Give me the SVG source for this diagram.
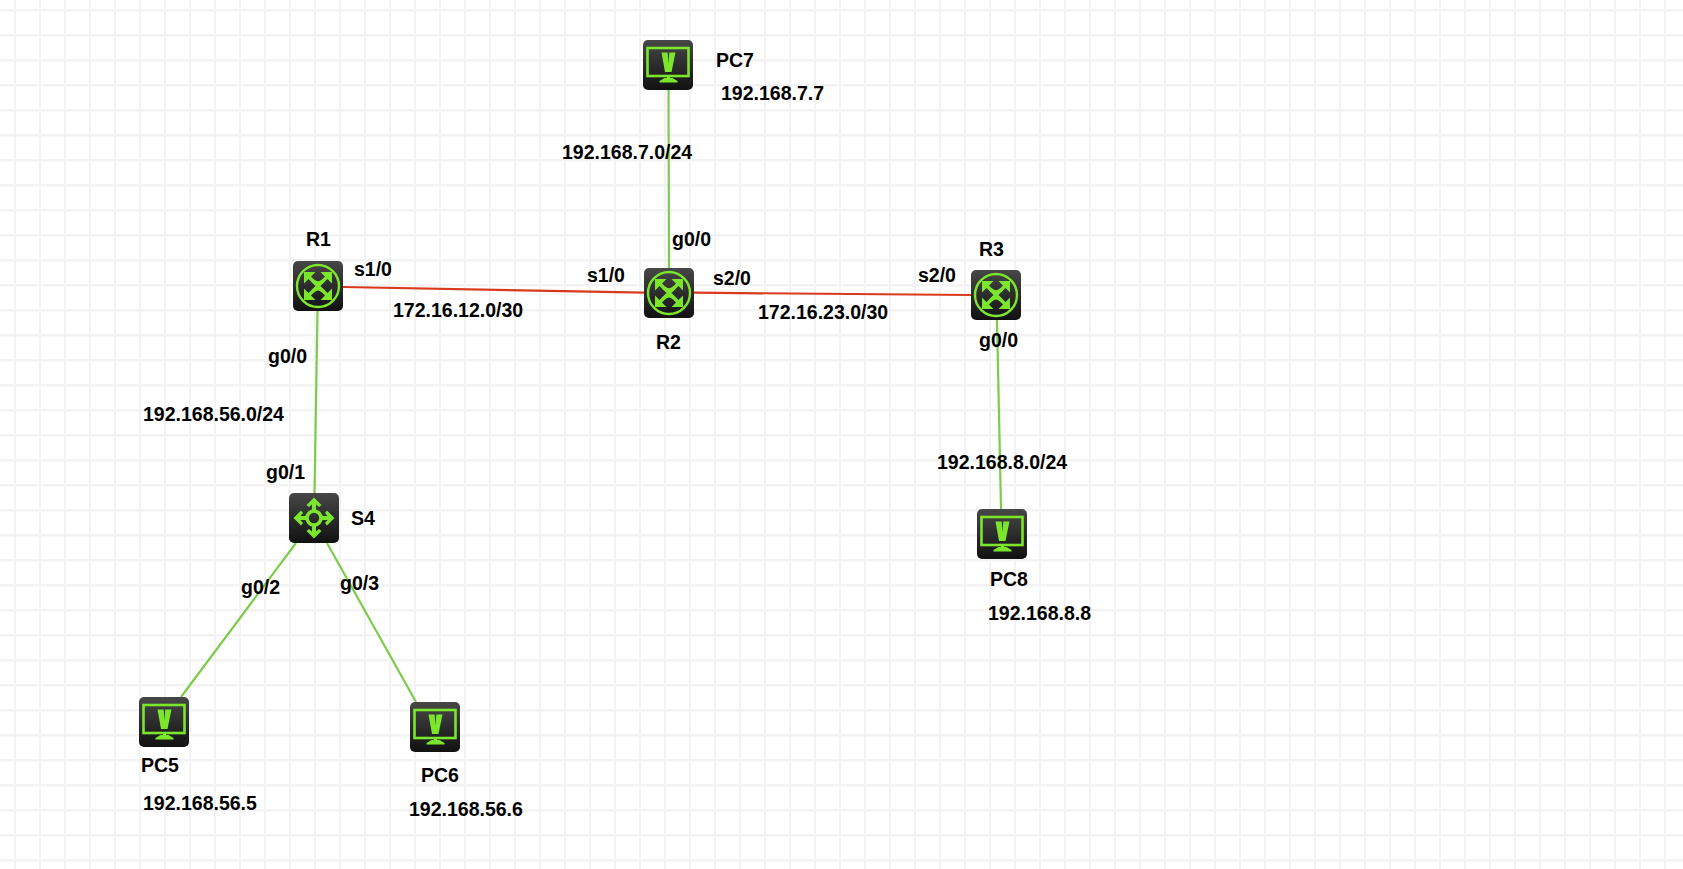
<svg xmlns="http://www.w3.org/2000/svg" width="1683" height="869" viewBox="0 0 1683 869">
<style>
text{font-family:"Liberation Sans",Arial,sans-serif;font-weight:700;font-size:19.5px;fill:#000}
.g{stroke:#7ccb4a;stroke-width:2.200;fill:none}
.r{stroke:#d93a1e;stroke-width:2.200;fill:none}
.ic{fill:none;stroke:#7ce62c;stroke-width:2.600}
.if{fill:#7ce62c}
.is{fill:none;stroke:#7ce62c;stroke-width:3.600}
</style>
<defs>
<linearGradient id="bg" x1="0" y1="0" x2="0" y2="1"><stop offset="0" stop-color="#474747"/><stop offset="1" stop-color="#111"/></linearGradient>
<pattern id="gv" width="25" height="25" patternUnits="userSpaceOnUse" x="14" y="0"><rect width="2" height="25" fill="#f3f3f3"/></pattern>
<pattern id="gh" width="25" height="25" patternUnits="userSpaceOnUse" x="0" y="9"><rect width="25" height="2.500" fill="#f3f3f3"/></pattern>
<symbol id="pc" viewBox="0 0 50 50" overflow="visible">
<rect width="50" height="50" rx="5" fill="url(#bg)"/>
<rect x="4.500" y="8" width="41" height="28" class="ic"/>
<path class="if" d="M18.500 12.500h6.200l.8 11 .8-11h6.200L28.500 32H22z"/>
<path class="if" d="M24 36.500h3V38h2.500l5 3v1.500h-18V41l5-3H24z"/>
</symbol>
<symbol id="rt" viewBox="0 0 50 50" overflow="visible">
<rect width="50" height="50" rx="5" fill="url(#bg)"/>
<circle cx="25" cy="25" r="21" fill="none" stroke="#7ce62c" stroke-width="2.400"/>
<path class="if" d="M11 11h11.500L11 22.500zM39 11v11.500L27.500 11zM11 39V27.500L22.500 39zM39 39H27.500L39 27.500z"/>
<path class="is" d="M15 15L20 20Q25 24 30 20L35 15M15 35L20 30Q25 25 30 30L35 35"/>
<path class="is" d="M20 20L30 30M30 20L20 30"/>
</symbol>
<symbol id="sw" viewBox="0 0 50 50" overflow="visible">
<rect width="50" height="50" rx="5" fill="url(#bg)"/>
<circle cx="25" cy="25" r="7" class="is"/>
<path class="if" d="M25 4.500l7.500 7.500-2.500 2-3-2.500v6h-4v-6l-3 2.500-2.500-2zM25 45.500l-7.500-7.500 2.500-2 3 2.500v-6h4v6l3-2.500 2.500 2zM4.500 25l7.500-7.500 2 2.500-2.500 3h6v4h-6l2.500 3-2 2.500zM45.500 25l-7.500 7.500-2-2.500 2.500-3h-6v-4h6l-2.500-3 2-2.500z"/>
</symbol>
</defs>
<rect width="1683" height="869" fill="#fff"/>
<rect id="grid-v" width="1683" height="869" fill="url(#gv)"/>
<rect id="grid-h" width="1683" height="869" fill="url(#gh)"/>
<g id="connectors">
<line class="g" x1="668.500" y1="90" x2="669" y2="268"/>
<line class="r" x1="343" y1="287" x2="644" y2="292.700"/>
<line class="r" x1="694" y1="292.700" x2="971" y2="295"/>
<line class="g" x1="317.500" y1="311" x2="314.500" y2="493"/>
<line class="g" x1="997" y1="320" x2="1001" y2="509"/>
<line class="g" x1="296" y1="543" x2="181" y2="697"/>
<line class="g" x1="327" y1="543" x2="416" y2="702"/>
</g>
<g id="R1"><use href="#rt" x="293" y="261" width="50" height="50"/><text x="306" y="245.500">R1</text></g>
<g id="R2"><use href="#rt" x="644" y="268" width="50" height="50"/><text x="656" y="348.500">R2</text></g>
<g id="R3"><use href="#rt" x="971" y="270" width="50" height="50"/><text x="979" y="255.500">R3</text></g>
<g id="S4"><use href="#sw" x="289" y="493" width="50" height="50"/><text x="351" y="524.500">S4</text></g>
<g id="PC5"><use href="#pc" x="139" y="697" width="50" height="50"/><text x="141" y="771.500">PC5</text><text x="143" y="809.500">192.168.56.5</text></g>
<g id="PC6"><use href="#pc" x="410" y="702" width="50" height="50"/><text x="421" y="782">PC6</text><text x="409" y="815.500">192.168.56.6</text></g>
<g id="PC7"><use href="#pc" x="643" y="40" width="50" height="50"/><text x="716" y="67">PC7</text><text x="721" y="99.500">192.168.7.7</text></g>
<g id="PC8"><use href="#pc" x="977" y="509" width="50" height="50"/><text x="990" y="585.500">PC8</text><text x="988" y="620">192.168.8.8</text></g>
<g id="labels">
<text x="562" y="158.500">192.168.7.0/24</text>
<text x="672" y="245.500">g0/0</text>
<text x="354" y="275.500">s1/0</text>
<text x="587" y="282">s1/0</text>
<text x="713" y="285">s2/0</text>
<text x="918" y="282">s2/0</text>
<text x="393" y="316.500">172.16.12.0/30</text>
<text x="758" y="319">172.16.23.0/30</text>
<text x="979" y="346.500">g0/0</text>
<text x="268" y="362.500">g0/0</text>
<text x="143" y="420.500">192.168.56.0/24</text>
<text x="266" y="478.500">g0/1</text>
<text x="937" y="469">192.168.8.0/24</text>
<text x="241" y="594">g0/2</text>
<text x="340" y="590">g0/3</text>
</g>
</svg>
